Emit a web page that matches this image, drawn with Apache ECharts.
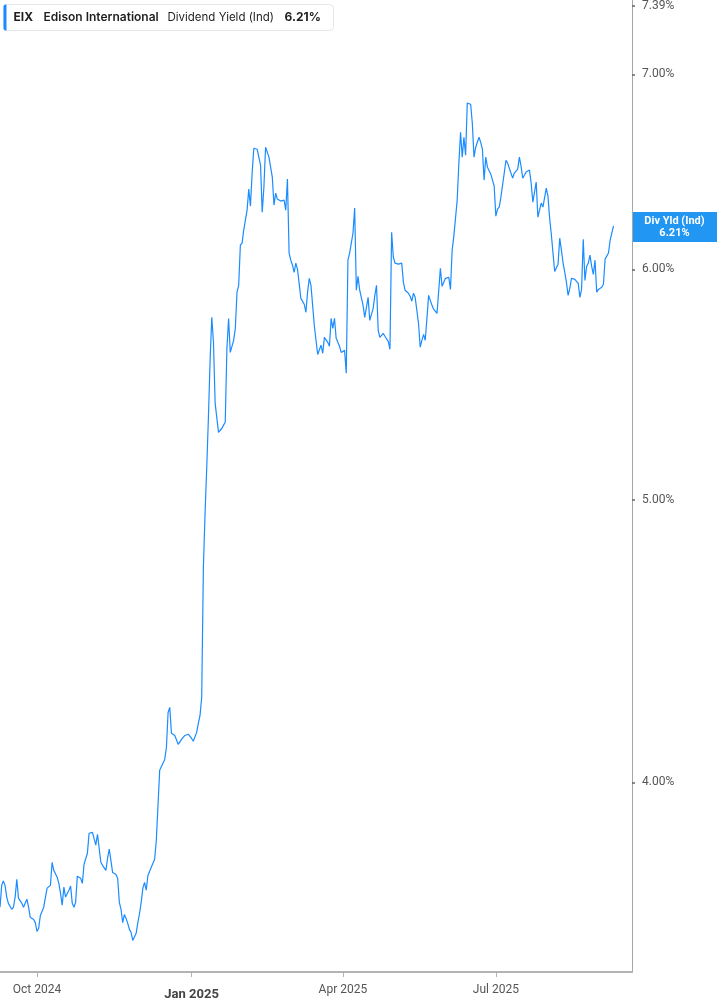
<!DOCTYPE html>
<html><head><meta charset="utf-8">
<script src="https://cdn.jsdelivr.net/npm/echarts@6/dist/echarts.min.js"></script>
<style>html,body{margin:0;padding:0;background:#fff}#c{width:717px;height:1005px}</style>
</head><body><div id="c"></div>
<script>
const ticker = 'EIX';
const company = 'Edison International';
const metricName = 'Dividend Yield (Ind)';
const metricShort = 'Div Yld (Ind)';

const dates = [
'2024-09-09','2024-09-10','2024-09-11','2024-09-12','2024-09-13','2024-09-14','2024-09-16','2024-09-17','2024-09-18','2024-09-19',
'2024-09-20','2024-09-22','2024-09-23','2024-09-25','2024-09-26','2024-09-27','2024-09-29','2024-09-30','2024-10-01','2024-10-02',
'2024-10-03','2024-10-05','2024-10-07','2024-10-08','2024-10-09','2024-10-10','2024-10-11','2024-10-13','2024-10-14','2024-10-15',
'2024-10-16','2024-10-17','2024-10-18','2024-10-20','2024-10-21','2024-10-22','2024-10-23','2024-10-24','2024-10-25','2024-10-27',
'2024-10-28','2024-10-29','2024-10-30','2024-10-31','2024-11-01','2024-11-03','2024-11-04','2024-11-05','2024-11-06','2024-11-07',
'2024-11-08','2024-11-09','2024-11-11','2024-11-12','2024-11-13','2024-11-14','2024-11-15','2024-11-17','2024-11-18','2024-11-19',
'2024-11-20','2024-11-21','2024-11-22','2024-11-23','2024-11-24','2024-11-25','2024-11-26','2024-11-27','2024-11-29','2024-11-30',
'2024-12-01','2024-12-02','2024-12-03','2024-12-04','2024-12-05','2024-12-06','2024-12-08','2024-12-10','2024-12-11','2024-12-12',
'2024-12-13','2024-12-16','2024-12-17','2024-12-18','2024-12-19','2024-12-20','2024-12-22','2024-12-23','2024-12-24','2024-12-26',
'2024-12-28','2024-12-30','2025-01-01','2025-01-02','2025-01-04','2025-01-05','2025-01-06','2025-01-07','2025-01-08','2025-01-09',
'2025-01-10','2025-01-11','2025-01-12','2025-01-13','2025-01-14','2025-01-15','2025-01-16','2025-01-17','2025-01-19','2025-01-20',
'2025-01-21','2025-01-22','2025-01-23','2025-01-24','2025-01-26','2025-01-27','2025-01-28','2025-01-29','2025-01-30','2025-01-31',
'2025-02-01','2025-02-03','2025-02-04','2025-02-05','2025-02-06','2025-02-07','2025-02-09','2025-02-10','2025-02-11','2025-02-12',
'2025-02-13','2025-02-14','2025-02-16','2025-02-17','2025-02-18','2025-02-19','2025-02-20','2025-02-21','2025-02-23','2025-02-24',
'2025-02-25','2025-02-26','2025-02-27','2025-02-28','2025-03-01','2025-03-02','2025-03-03','2025-03-04','2025-03-05','2025-03-06',
'2025-03-07','2025-03-09','2025-03-10','2025-03-11','2025-03-12','2025-03-13','2025-03-14','2025-03-15','2025-03-16','2025-03-17',
'2025-03-19','2025-03-20','2025-03-21','2025-03-23','2025-03-24','2025-03-25','2025-03-26','2025-03-27','2025-03-28','2025-03-30',
'2025-03-31','2025-04-02','2025-04-03','2025-04-04','2025-04-05','2025-04-06','2025-04-07','2025-04-08','2025-04-09','2025-04-10',
'2025-04-11','2025-04-13','2025-04-14','2025-04-15','2025-04-16','2025-04-17','2025-04-19','2025-04-20','2025-04-21','2025-04-22',
'2025-04-23','2025-04-24','2025-04-25','2025-04-26','2025-04-28','2025-04-29','2025-04-30','2025-05-01','2025-05-02','2025-05-04',
'2025-05-05','2025-05-06','2025-05-07','2025-05-08','2025-05-10','2025-05-11','2025-05-12','2025-05-13','2025-05-14','2025-05-16',
'2025-05-17','2025-05-18','2025-05-19','2025-05-20','2025-05-21','2025-05-22','2025-05-24','2025-05-25','2025-05-27','2025-05-28',
'2025-05-29','2025-05-30','2025-05-31','2025-06-01','2025-06-03','2025-06-04','2025-06-05','2025-06-06','2025-06-07','2025-06-08',
'2025-06-09','2025-06-10','2025-06-11','2025-06-12','2025-06-13','2025-06-14','2025-06-15','2025-06-16','2025-06-17','2025-06-18',
'2025-06-19','2025-06-21','2025-06-22','2025-06-23','2025-06-24','2025-06-25','2025-06-26','2025-06-28','2025-06-29','2025-06-30',
'2025-07-01','2025-07-02','2025-07-03','2025-07-04','2025-07-05','2025-07-06','2025-07-07','2025-07-08','2025-07-09','2025-07-11',
'2025-07-12','2025-07-13','2025-07-14','2025-07-15','2025-07-16','2025-07-17','2025-07-18','2025-07-19','2025-07-21','2025-07-22',
'2025-07-23','2025-07-24','2025-07-25','2025-07-26','2025-07-27','2025-07-28','2025-07-29','2025-07-31','2025-08-01','2025-08-02',
'2025-08-03','2025-08-04','2025-08-05','2025-08-06','2025-08-07','2025-08-08','2025-08-09','2025-08-10','2025-08-11','2025-08-12',
'2025-08-13','2025-08-14','2025-08-15','2025-08-17','2025-08-18','2025-08-19','2025-08-20','2025-08-21','2025-08-22','2025-08-23',
'2025-08-24','2025-08-25','2025-08-26','2025-08-27','2025-08-28','2025-08-29','2025-08-30','2025-08-31','2025-09-02','2025-09-03',
'2025-09-04','2025-09-06','2025-09-07','2025-09-09'
];

const yieldPct = [
3.624,3.687,3.700,3.687,3.653,3.635,3.618,3.624,3.653,3.705,
3.650,3.635,3.624,3.647,3.624,3.595,3.589,3.580,3.555,3.564,
3.600,3.624,3.679,3.676,3.687,3.755,3.731,3.711,3.693,3.664,
3.630,3.682,3.653,3.673,3.685,3.635,3.624,3.638,3.714,3.708,
3.693,3.749,3.752,3.782,3.842,3.845,3.848,3.806,3.839,3.833,
3.755,3.746,3.731,3.767,3.794,3.797,3.725,3.719,3.708,3.638,
3.618,3.580,3.603,3.592,3.578,3.561,3.552,3.530,3.550,3.580,
3.606,3.638,3.679,3.696,3.673,3.716,3.740,3.764,3.821,3.824,
4.038,4.073,4.111,4.227,4.244,4.158,4.151,4.145,4.122,4.138,
4.151,4.155,4.141,4.132,4.161,4.191,4.217,4.278,4.741,4.948,
5.131,5.338,5.584,5.777,5.664,5.397,5.401,5.275,5.292,5.305,
5.317,5.637,5.772,5.619,5.673,5.727,5.893,5.925,6.116,6.126,
6.189,6.288,6.393,6.308,6.475,6.603,6.598,6.593,6.516,6.278,
6.403,6.608,6.557,6.505,6.454,6.313,6.373,6.343,6.333,6.333,
6.338,6.288,6.444,6.078,6.044,6.020,5.986,6.030,6.000,6.009,
5.864,5.837,5.800,5.893,5.958,5.925,5.832,5.740,5.673,5.610,
5.651,5.615,5.686,5.664,5.646,5.772,5.727,5.772,5.682,5.646,
5.619,5.628,5.527,6.044,6.078,6.126,6.174,6.298,5.902,5.967,
5.902,5.832,5.777,5.823,5.869,5.763,5.818,5.878,5.925,5.718,
5.686,5.686,5.704,5.691,5.668,5.633,6.179,6.059,6.030,6.025,
6.025,6.030,5.939,5.902,5.888,5.874,5.851,5.888,5.869,5.749,
5.642,5.673,5.700,5.673,5.772,5.878,5.832,5.814,5.795,5.791,
6.005,5.920,5.939,5.958,5.962,5.906,6.092,6.160,6.155,6.338,
6.526,6.687,6.557,6.661,6.567,6.843,6.843,6.837,6.735,6.557,
6.608,6.661,6.634,6.598,6.439,6.557,6.505,6.469,6.439,6.409,
6.258,6.293,6.303,6.353,6.414,6.475,6.541,6.526,6.531,6.449,
6.475,6.480,6.495,6.557,6.510,6.449,6.464,6.480,6.490,6.424,
6.328,6.323,6.429,6.253,6.288,6.323,6.303,6.398,6.358,6.248,
6.169,6.078,5.990,5.986,6.025,6.150,6.092,6.030,5.986,5.939,
5.878,5.911,5.958,5.953,5.944,5.934,5.869,5.906,6.145,5.948,
6.014,6.030,6.068,6.014,5.976,6.044,5.893,5.906,5.916,5.930,
6.049,6.078,6.140,6.210
];

const yTickValues = [4, 5, 6, 7, 7.389];
const xTickDates = ['2024-10-01', '2025-01-01', '2025-04-01', '2025-07-01'];
const xTickLabels = ['Oct 2024', 'Jan 2025', 'Apr 2025', 'Jul 2025'];
const xRange = ['2024-09-09', '2025-09-20'];
const yRange = [3.443, 7.424];

const BLUE = '#1a8cff';
const toTs = s => { const p = s.split('-').map(Number); return Date.UTC(p[0], p[1] - 1, p[2]); };
const lastVal = yieldPct[yieldPct.length - 1];
const lastTxt = lastVal.toFixed(2) + '%';

const chart = echarts.init(document.getElementById('c'), null, { renderer: 'canvas' });
const xTickTs = xTickDates.map(toTs);

chart.setOption({
  animation: false,
  backgroundColor: '#fff',
  grid: { left: 0, right: 85, top: 0, bottom: 33 },
  xAxis: {
    type: 'value',
    min: toTs(xRange[0]),
    max: toTs(xRange[1]),
    axisLine: { show: true, lineStyle: { color: '#b3b3b3', width: 2 } },
    axisTick: { show: true, customValues: xTickTs, length: 5, lineStyle: { color: '#b3b3b3', width: 1 } },
    splitLine: { show: false },
    axisLabel: {
      customValues: xTickTs,
      margin: 12,
      color: '#555',
      fontFamily: 'Roboto',
      fontSize: 12,
      formatter: function (v) {
        let i = -1;
        xTickTs.forEach((t, k) => { if (Math.abs(t - v) < 3600000) i = k; });
        const t = i >= 0 ? xTickLabels[i] : '';
        return i === 1 ? '{b|' + t + '}' : t;
      },
      rich: { b: { fontWeight: 'bold', fontSize: 13, color: '#444', fontFamily: 'Roboto', padding: [4, 0, 0, 0] } }
    }
  },
  yAxis: {
    type: 'value',
    position: 'right',
    min: Math.log(yRange[0]),
    max: Math.log(yRange[1]),
    axisLine: { show: true, lineStyle: { color: '#a6a6a6', width: 1 } },
    axisTick: { show: true, customValues: yTickValues.map(Math.log), length: 3, lineStyle: { color: '#666', width: 1.5 } },
    splitLine: { show: false },
    axisLabel: {
      customValues: yTickValues.map(Math.log),
      margin: 10,
      color: '#555',
      fontFamily: 'Roboto',
      fontSize: 12,
      padding: [3, 0, 0, 0],
      formatter: v => Math.exp(v).toFixed(2) + '%'
    }
  },
  series: [{
    type: 'line',
    showSymbol: false,
    data: dates.map((d, i) => [toTs(d), Math.log(yieldPct[i])]),
    lineStyle: { color: BLUE, width: 1.2 },
    itemStyle: { color: BLUE }
  }]
});

const yPix = chart.convertToPixel({ yAxisIndex: 0 }, Math.log(lastVal));
const axisX = chart.convertToPixel({ xAxisIndex: 0 }, toTs(xRange[1]));

chart.setOption({
  graphic: [
    {
      type: 'group', left: 3, top: 4,
      children: [
        { type: 'rect', shape: { x: 0, y: 0, width: 330, height: 26, r: 4 }, style: { fill: '#fff', stroke: '#e6e6e6', lineWidth: 1 } },
        { type: 'rect', shape: { x: 0, y: 0, width: 3, height: 26, r: [2, 0, 0, 2] }, style: { fill: BLUE } },
        { type: 'text', x: 10, y: 13, style: { text: ticker, fill: '#1f1f1f', font: 'bold 12px Inter', verticalAlign: 'middle' } },
        { type: 'text', x: 40, y: 13, style: { text: company, fill: '#1f1f1f', font: '600 12px Inter', verticalAlign: 'middle' } },
        { type: 'text', x: 164, y: 13, style: { text: metricName, fill: '#1f1f1f', font: '400 11.5px Inter', verticalAlign: 'middle' } },
        { type: 'text', x: 281, y: 13, style: { text: lastTxt, fill: '#1f1f1f', font: 'bold 12px Inter', verticalAlign: 'middle' } }
      ]
    },
    {
      type: 'group', x: axisX, y: yPix - 14,
      children: [
        { type: 'rect', shape: { x: 0, y: 0, width: 717 - axisX, height: 30 }, style: { fill: '#2196f3' } },
        { type: 'text', x: (717 - axisX) / 2, y: 9, style: { text: metricShort, fill: '#fff', font: 'bold 11px Roboto', align: 'center', verticalAlign: 'middle' } },
        { type: 'text', x: (717 - axisX) / 2, y: 21, style: { text: lastTxt, fill: '#fff', font: 'bold 11px Roboto', align: 'center', verticalAlign: 'middle' } }
      ]
    }
  ]
});
</script>
</body></html>
